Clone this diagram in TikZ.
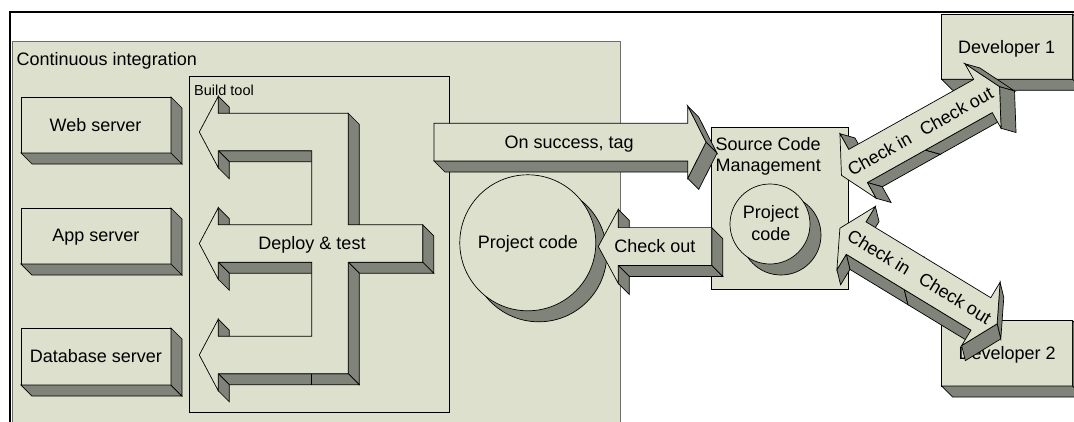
\documentclass[tikz,border=0pt]{standalone}
\usepackage{fontspec}
\setmainfont{Liberation Sans}
\definecolor{lightc}{RGB}{221,224,204}
\definecolor{darkc}{RGB}{128,131,121}
\definecolor{panelline}{RGB}{110,110,110}
\tikzset{
  side/.style={fill=darkc, draw=black, line width=0.7pt},
  face/.style={fill=lightc, draw=black, line width=0.7pt},
  edge/.style={draw=black, line width=0.7pt},
  boxf/.style={face, rectangle, inner sep=0pt, outer sep=0pt},
  lbl/.style={font=\fontsize{18}{21}\selectfont, inner sep=0pt, anchor=base},
}
\newcommand{\sq}[4]{\draw[side] (#1,#2) -- (#3,#4) -- ++(11,11) -- ++({(#1)-(#3)},{(#2)-(#4)}) -- cycle;}
\newcommand{\cube}[5]{%
  \node[boxf, minimum width=#4pt, minimum height=#5pt] (#1) at (#2,#3) {};
  \draw[side] (#1.south west) -- (#1.south east) -- ++(11,11) -- ++(-#4,0) -- cycle;
  \draw[side] (#1.north east) -- (#1.south east) -- ++(11,11) -- ++(0,-#5) -- cycle;
}
\def\arrS{19}
\def\arrH{37}
\def\arrM{-5}
\newcommand{\dbl}[1]{%
  \sq{\arrM}{\arrS}{-#1}{\arrS}
  \sq{-#1}{\arrS}{-#1}{\arrH}
  \sq{-#1}{-\arrH}{-#1}{-\arrS}
  \sq{\arrM}{-\arrS}{\arrM}{\arrS}
  \fill[lightc] ({-#1-19},0) -- (-#1,-\arrH) -- (-#1,-\arrS) -- (\arrM,-\arrS) -- (\arrM,\arrS) -- (-#1,\arrS) -- (-#1,\arrH) -- cycle;
  \draw[edge] (\arrM,\arrS) -- (-#1,\arrS) -- (-#1,\arrH) -- ({-#1-19},0) -- (-#1,-\arrH) -- (-#1,-\arrS) -- (\arrM,-\arrS);
  \sq{#1}{\arrS}{\arrM}{\arrS}
  \sq{#1}{-\arrH}{#1+19}{0}
  \sq{#1+19}{0}{#1}{\arrH}
  \fill[lightc] ({\arrM-1},-\arrS) -- (#1,-\arrS) -- (#1,-\arrH) -- ({#1+19},0) -- (#1,\arrH) -- (#1,\arrS) -- ({\arrM-1},\arrS) -- cycle;
  \draw[edge] ({\arrM-1},-\arrS) -- (#1,-\arrS) -- (#1,-\arrH) -- ({#1+19},0) -- (#1,\arrH) -- (#1,\arrS) -- ({\arrM-1},\arrS);
}
\begin{document}
\begin{tikzpicture}[x=1pt,y=-1pt]
\useasboundingbox (0,0) rectangle (1074,421);
\clip (0,0) rectangle (1074,421);
\fill[white] (0,0) rectangle (1074,421);
% Continuous integration panel
\draw[fill=lightc, draw=panelline, line width=0.8pt] (12,41.5) rectangle (620,430);
\node[lbl, anchor=base west] (ci) at (16.5,65) {Continuous integration};
% Build tool
\draw[line width=0.7pt] (189,76) rectangle (449,412);
\node[lbl, anchor=base west, font=\fontsize{14.5}{17}\selectfont] (bt) at (194,95) {Build tool};
% servers
\cube{web}{96}{125}{150}{56}
\node[lbl] (webt) at (95.5,131.7) {Web server};
\cube{app}{96}{236}{150}{56}
\node[lbl] (appt) at (95.8,241.7) {App server};
\cube{db}{96}{356.5}{150}{57}
\node[lbl] (dbt) at (95.8,362.7) {Database server};
% Deploy & test arrow
\sq{218.3}{96.2}{218.3}{113.3}
\sq{348.3}{113.3}{348.3}{224.8}
\sq{422.7}{224.8}{422.7}{262.2}
\sq{422.7}{262.2}{348.3}{262.2}
\sq{348.3}{262.2}{348.3}{373.7}
\sq{348.3}{373.7}{218.3}{373.7}
\sq{218.3}{373.7}{218.3}{390.8}
\sq{218.3}{319.2}{218.3}{336.3}
\sq{311.7}{262.2}{218.3}{262.2}
\sq{218.3}{262.2}{218.3}{279.3}
\sq{218.3}{207.7}{218.3}{224.8}
\sq{311.7}{150.7}{218.3}{150.7}
\sq{218.3}{150.7}{218.3}{167.8}
\draw[line width=0.7pt] (311.7,373.7) -- (311.7,384.7);
\draw[face] (199.3,132) -- (218.3,96.2) -- (218.3,113.3) -- (348.3,113.3) -- (348.3,224.8) -- (422.7,224.8) -- (422.7,262.2) -- (348.3,262.2) -- (348.3,373.7) -- (218.3,373.7) -- (218.3,390.8) -- (199.3,355) -- (218.3,319.2) -- (218.3,336.3) -- (311.7,336.3) -- (311.7,262.2) -- (218.3,262.2) -- (218.3,279.3) -- (199.3,243.5) -- (218.3,207.7) -- (218.3,224.8) -- (311.7,224.8) -- (311.7,150.7) -- (218.3,150.7) -- (218.3,167.8) -- cycle;
\node[lbl] (dt) at (312,249.3) {Deploy \& test};
% Project code (CI)
\node[circle, side, minimum size=136pt, inner sep=0pt] (pcs) at (538.8,253.8) {};
\node[circle, face, minimum size=136pt, inner sep=0pt] (pc) at (527.8,242.8) {};
\node[lbl] (pct) at (527.8,248.3) {Project code};
% Source Code Management
\draw[face] (711.7,127.7) rectangle (848.3,289.3);
\node[lbl, anchor=base west] (scm1) at (715.5,150) {Source Code};
\node[lbl, anchor=base west] (scm2) at (715.5,171.7) {Management};
\node[circle, side, minimum size=80pt, inner sep=0pt] (spcs) at (781,235) {};
\node[circle, face, minimum size=80pt, inner sep=0pt] (spc) at (770,224) {};
\node[lbl] (spc1) at (770.8,218.3) {Project};
\node[lbl] (spc2) at (770.8,240) {code};
% On success, tag
\sq{434}{161}{687.7}{161}
\sq{687.7}{106}{706}{142.2}
\sq{706}{142.2}{687.7}{178.4}
\draw[face] (434,123.3) -- (687.7,123.3) -- (687.7,106) -- (706,142.2) -- (687.7,178.4) -- (687.7,161) -- (434,161) -- cycle;
\node[lbl] (ost) at (569.2,148.3) {On success, tag};
% Check out (horizontal)
\sq{711.7}{265.4}{618.3}{265.4}
\sq{618.3}{265.4}{618.3}{283.5}
\sq{618.3}{209.5}{618.3}{227.6}
\sq{711.7}{227.6}{711.7}{265.4}
\draw[face] (598.3,246.5) -- (618.3,209.5) -- (618.3,227.6) -- (711.7,227.6) -- (711.7,265.4) -- (618.3,265.4) -- (618.3,283.5) -- cycle;
\node[lbl] (cot) at (655,252.3) {Check out};
% Developers
\cube{dev1}{1007.2}{46.65}{131}{65.3}
\node[lbl] (dev1t) at (1006.7,53.3) {Developer 1};
\cube{dev2}{1007.2}{353.35}{131}{65.3}
\node[lbl] (dev2t) at (1007.2,359.3) {Developer 2};
% Diagonal arrows
\begin{scope}[shift={(920.5,131)}, rotate=29.25]
  \dbl{71.6}
  \node[lbl, transform shape] (ci1) at (-47,6.5) {Check in};
  \node[lbl, transform shape] (co1) at (41,6.5) {Check out};
\end{scope}
\begin{scope}[shift={(918.5,276)}, rotate=-31.3]
  \dbl{73}
  \node[lbl, transform shape] (ci2) at (-46,6.5) {Check in};
  \node[lbl, transform shape] (co2) at (43,6.5) {Check out};
\end{scope}
% outer frame
\draw[line width=2pt] (10,430) -- (10,12) -- (1080,12);
\end{tikzpicture}
\end{document}
